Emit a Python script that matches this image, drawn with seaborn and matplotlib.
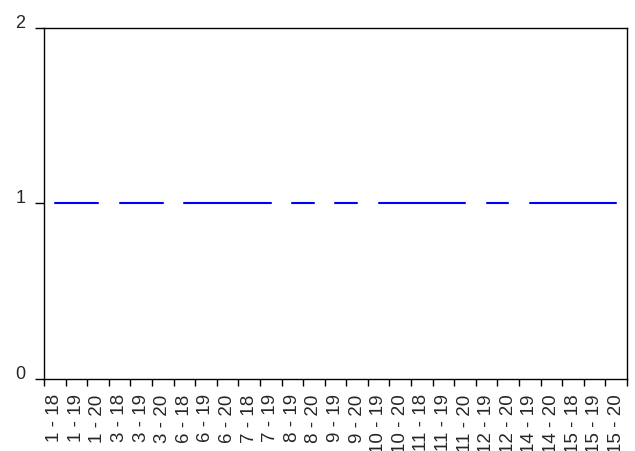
import numpy as np
import pandas as pd
import matplotlib
matplotlib.use("Agg")
import matplotlib.pyplot as plt
import seaborn as sns

# Panel observations (cross-section id, period) shown on the x axis
ids = [1, 1, 1, 3, 3, 3, 6, 6, 6, 7, 7, 8, 8, 9, 9, 10, 10, 11, 11, 11, 12, 12, 14, 14, 15, 15, 15]
periods = [18, 19, 20, 18, 19, 20, 18, 19, 20, 18, 19, 19, 20, 19, 20, 19, 20, 18, 19, 20, 19, 20, 19, 20, 18, 19, 20]
values = [1] * 27

tick_labels = [f"{i} - {p}" for i, p in zip(ids, periods)]

# line breaks where an observation is missing from the full id x period grid
full_pos = [(i - 1) * 3 + (p - 18) for i, p in zip(ids, periods)]
segment = np.concatenate([[0], np.cumsum(np.diff(full_pos) != 1)])

df = pd.DataFrame({"x": np.arange(len(values)), "y": values, "seg": segment})

sns.set_style("ticks")
plt.rcParams["font.family"] = ["Liberation Sans", "DejaVu Sans"]

fig = plt.figure(figsize=(6.35, 4.51), dpi=100)
ax = fig.add_axes([44 / 635, 1 - 379 / 451, (627 - 44) / 635, (379 - 28) / 451])

sns.lineplot(data=df, x="x", y="y", units="seg", estimator=None,
             color="#0000ff", linewidth=1.5, ax=ax, legend=False)

ax.set_xlim(-0.5, len(values) - 0.5)
ax.set_ylim(0, 2)

# category labels at centers, tick marks at boundaries
ax.set_xticks(np.arange(len(values)))
ax.set_xticklabels(tick_labels, rotation=90, fontsize=13.5)
ax.set_xticks(np.arange(len(values) + 1) - 0.5, minor=True)
ax.tick_params(axis="x", which="major", length=0, pad=11)
ax.tick_params(axis="x", which="minor", length=5, width=1, color="black", direction="out")

ax.set_yticks([0, 1, 2])
ax.set_yticklabels(["0", "1", "2"], fontsize=13)
ax.tick_params(axis="y", which="major", length=6.5, width=1, color="black", pad=7)
for lab in ax.get_yticklabels():
    lab.set_va("baseline")

for s in ax.spines.values():
    s.set_visible(True)
    s.set_color("black")
    s.set_linewidth(1)

ax.set_xlabel("")
ax.set_ylabel("")
ax.grid(False)

fig.savefig("out.png", dpi=100)
